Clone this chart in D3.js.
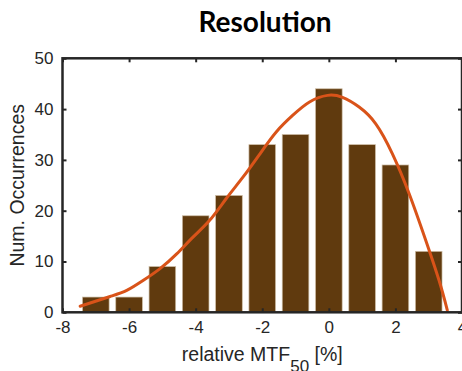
<!DOCTYPE html>
<html>
<head>
<meta charset="utf-8">
<script src="https://cdn.jsdelivr.net/npm/d3@7"></script>
<style>
  html, body { margin: 0; padding: 0; background: #fff; }
  svg { display: block; }
</style>
</head>
<body>
<svg id="chart" width="462" height="371"></svg>
<script>
// ---- data ----
const binCenters = [-7, -6, -5, -4, -3, -2, -1, 0, 1, 2, 3];
const counts     = [3, 3, 9, 19, 23, 33, 35, 44, 33, 29, 12];
const fitX = [-7.47, -6.57, -6.07, -5.57, -5.07, -4.57, -4.08, -3.58, -3.08, -2.58, -2.08, -1.58, -1.08, -0.58, -0.04, 0.41, 0.91, 1.41, 1.91, 2.41, 2.91, 3.31, 3.56];
const fitY = [1.2, 3.1, 4.3, 6.3, 8.6, 11.5, 14.8, 18.1, 22.4, 26.6, 31.1, 35.5, 38.8, 41.4, 42.7, 42.3, 40.4, 37.1, 31.2, 23.4, 14.2, 6.3, 0.4];
const xTicks = [-8, -6, -4, -2, 0, 2, 4];
const yTicks = [0, 10, 20, 30, 40, 50];
const titleText = "Resolution";
const yLabelText = "Num. Occurrences";

// ---- chart ----
const svg = d3.select("#chart");
const L = 62.5, R = 462, T = 58.3, B = 312.3;
const x = d3.scaleLinear().domain([-8, 4]).range([L, R]);
const y = d3.scaleLinear().domain([0, 50]).range([B, T]);
const barW = x(0.8) - x(0);
const axisColor = "#262626";
const font = "'Liberation Sans', Arial, Helvetica, sans-serif";
const fmt = d => String(d);

// bars
svg.append("g").selectAll("rect").data(binCenters).join("rect")
  .attr("x", (d) => x(d) - barW / 2)
  .attr("y", (d, i) => y(counts[i]))
  .attr("width", barW)
  .attr("height", (d, i) => y(0) - y(counts[i]))
  .attr("fill", "#603A0E")
  .attr("stroke", "#cdbda5")
  .attr("stroke-width", 0.7);

// fit curve
const pts = fitX.map((v, i) => [v, fitY[i]]);
svg.append("path")
  .attr("d", d3.line().x(d => x(d[0])).y(d => y(d[1])).curve(d3.curveNatural)(pts))
  .attr("fill", "none")
  .attr("stroke", "#D95319")
  .attr("stroke-width", 3)
  .attr("stroke-linecap", "round");

// axes
function styleAxis(g) {
  g.select(".domain").remove();
  g.selectAll(".tick line").attr("stroke", axisColor).attr("stroke-width", 2);
  g.selectAll(".tick text").attr("fill", "#262626").style("font-family", font).style("font-size", "17px");
}
svg.append("g").attr("transform", `translate(0,${B})`)
  .call(d3.axisBottom(x).tickValues(xTicks).tickSizeInner(-4).tickSizeOuter(0).tickPadding(9).tickFormat(fmt))
  .call(styleAxis);
svg.append("g").attr("transform", `translate(0,${T})`)
  .call(d3.axisTop(x).tickValues(xTicks).tickSizeInner(-4).tickSizeOuter(0).tickFormat(""))
  .call(styleAxis);
svg.append("g").attr("transform", `translate(${L},0)`)
  .call(d3.axisLeft(y).tickValues(yTicks).tickSizeInner(-4).tickSizeOuter(0).tickPadding(9).tickFormat(fmt))
  .call(styleAxis);
svg.append("g").attr("transform", `translate(${R},0)`)
  .call(d3.axisRight(y).tickValues(yTicks).tickSizeInner(-4).tickSizeOuter(0).tickFormat(""))
  .call(styleAxis);

// box
svg.append("rect")
  .attr("x", L).attr("y", T).attr("width", R - L).attr("height", B - T)
  .attr("fill", "none").attr("stroke", axisColor).attr("stroke-width", 2.5);

// x label with subscript
const xl = svg.append("text")
  .attr("x", (L + R) / 2).attr("y", 361)
  .attr("text-anchor", "middle")
  .attr("fill", "#262626")
  .style("font-family", font).style("font-size", "19.5px");
xl.append("tspan").text("relative MTF");
xl.append("tspan").attr("dy", 11).style("font-size", "17px").text("50");
xl.append("tspan").attr("dy", -11).text(" [%]");

// y label
svg.append("text")
  .attr("transform", `translate(24,${(T + B) / 2}) rotate(-90)`)
  .attr("text-anchor", "middle")
  .attr("fill", "#262626")
  .style("font-family", font).style("font-size", "19.5px")
  .text(yLabelText);

// title
svg.append("text")
  .attr("x", 265).attr("y", 32)
  .attr("text-anchor", "middle")
  .attr("fill", "#000")
  .style("font-family", "Lato, 'Open Sans', sans-serif").style("font-weight", "bold").style("font-size", "28px")
  .text(titleText);
</script>
</body>
</html>
